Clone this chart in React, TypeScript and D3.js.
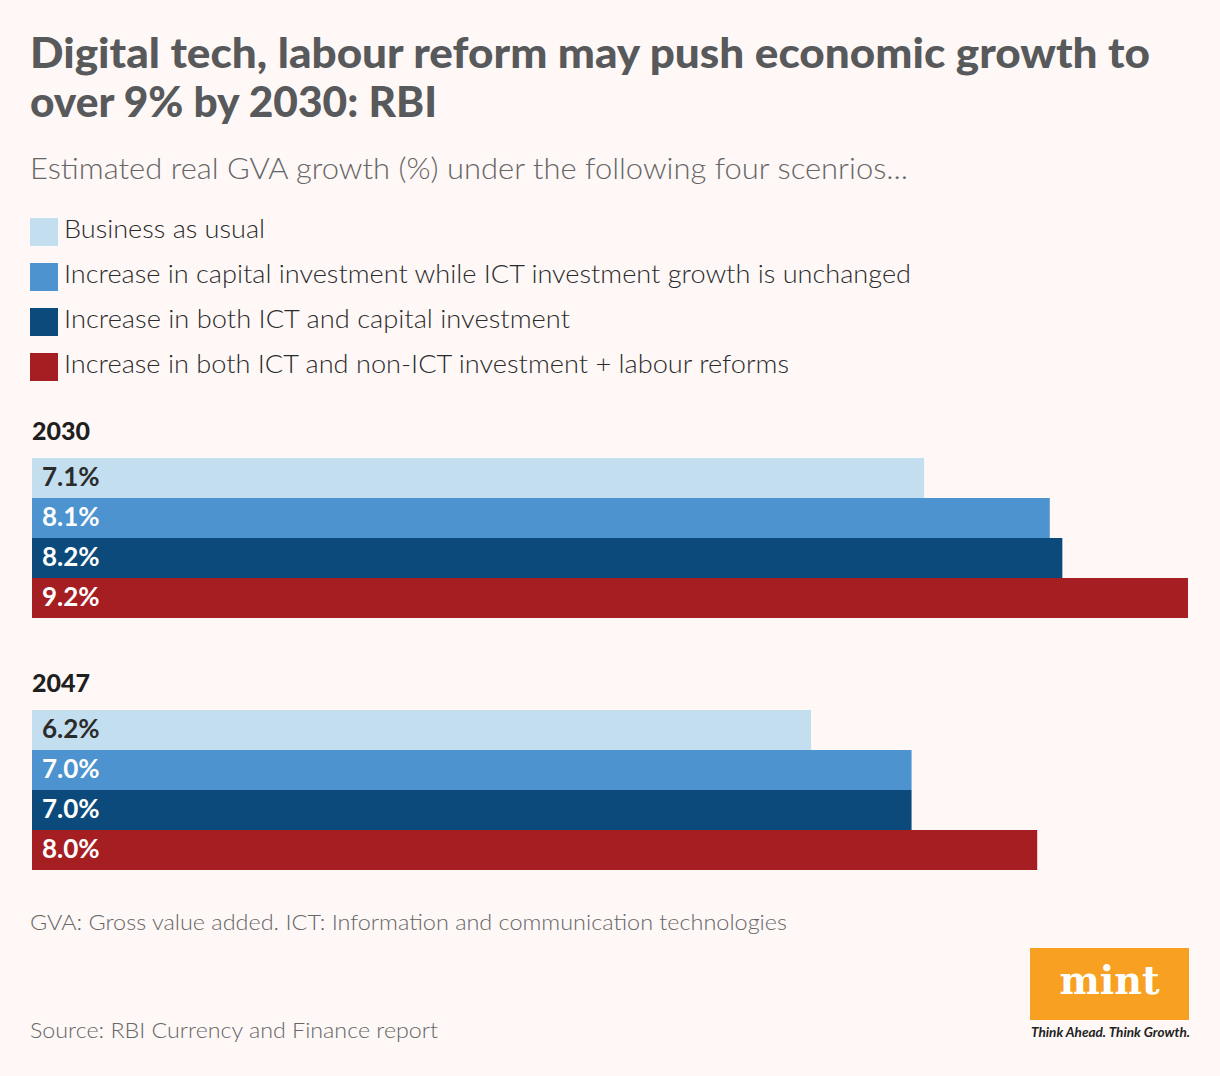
import React from "react";
import * as d3 from "d3";

const years = ["2030", "2047"];
const scenarios = [
  "Business as usual",
  "Increase in capital investment while ICT investment growth is unchanged",
  "Increase in both ICT and capital investment",
  "Increase in both ICT and non-ICT investment + labour reforms",
];
const values2030 = [7.1, 8.1, 8.2, 9.2];
const values2047 = [6.2, 7.0, 7.0, 8.0];
const colors = ["#C2DEEF", "#4C93CF", "#0B4A7A", "#A51E22"];
const labelColors = ["#2b2b2b", "#ffffff", "#ffffff", "#ffffff"];

const W = 1220;
const H = 1076;
const BG = "#FFF8F7";

export default function App() {
  const x = d3.scaleLinear().domain([0, 9.2]).range([32, 1188]);
  const groupTop = d3.scaleOrdinal<string, number>().domain(years).range([458, 710]);
  const band = d3.scaleBand<number>().domain([0, 1, 2, 3]).range([0, 160]).padding(0);
  const series = [values2030, values2047];
  const legendY = d3.scalePoint<string>().domain(scenarios).range([232, 367]);
  const sans = "Lato, 'Noto Sans', sans-serif";

  const legendWidths = [201, 847, 506, 725];

  return (
    <div style={{ position: "absolute", left: 0, top: 0 }}>
      <svg width={W} height={H} style={{ display: "block" }}>
        <rect x={0} y={0} width={W} height={H} fill={BG} />
        <g fontFamily={sans}>
          <text x={30} y={68} fontSize={42} fontWeight={900} fill="#58595B" textLength={1120} lengthAdjust="spacingAndGlyphs">
            Digital tech, labour reform may push economic growth to
          </text>
          <text x={30} y={117} fontSize={42} fontWeight={900} fill="#58595B" textLength={407} lengthAdjust="spacingAndGlyphs">
            over 9% by 2030: RBI
          </text>
          <text x={30} y={179} fontSize={29} fontWeight={300} fill="#666666" textLength={878} lengthAdjust="spacingAndGlyphs">
            Estimated real GVA growth (%) under the following four scenrios...
          </text>

          {scenarios.map((s, i) => (
            <g key={s}>
              <rect x={30} y={(legendY(s) as number) - 14} width={28} height={28} fill={colors[i]} />
              <text x={64} y={(legendY(s) as number) + 6} fontSize={26} fontWeight={300} fill="#2b2b2b" textLength={legendWidths[i]} lengthAdjust="spacingAndGlyphs">
                {s}
              </text>
            </g>
          ))}

          {years.map((yr, gi) => {
            const top = groupTop(yr);
            return (
              <g key={yr}>
                <text x={32} y={top - 18} fontSize={25} fontWeight={900} fill="#1f1f1f">
                  {yr}
                </text>
                {series[gi].map((v, i) => (
                  <g key={i}>
                    <rect x={x(0)} y={top + (band(i) as number)} width={x(v) - x(0)} height={band.bandwidth()} fill={colors[i]} />
                    <text x={42} y={top + (band(i) as number) + 28} fontSize={26} fontWeight={700} fill={labelColors[i]}>
                      {v.toFixed(1) + "%"}
                    </text>
                  </g>
                ))}
              </g>
            );
          })}

          <text x={30} y={930} fontSize={22} fontWeight={300} fill="#666666" textLength={757} lengthAdjust="spacingAndGlyphs">
            GVA: Gross value added. ICT: Information and communication technologies
          </text>
          <text x={30} y={1038} fontSize={22} fontWeight={300} fill="#666666" textLength={408} lengthAdjust="spacingAndGlyphs">
            Source: RBI Currency and Finance report
          </text>

          <rect x={1030} y={948} width={159} height={72} fill="#F8A021" />
          <text x={1109.5} y={994} textAnchor="middle" fontFamily="'DejaVu Serif', 'Liberation Serif', serif" fontWeight={700} fontSize={40} fill="#ffffff" textLength={100} lengthAdjust="spacingAndGlyphs">
            mint
          </text>
          <text x={1031} y={1037} fontSize={13} fontStyle="italic" fontWeight={700} fill="#222222" textLength={159} lengthAdjust="spacingAndGlyphs">
            Think Ahead. Think Growth.
          </text>
        </g>
      </svg>
    </div>
  );
}
